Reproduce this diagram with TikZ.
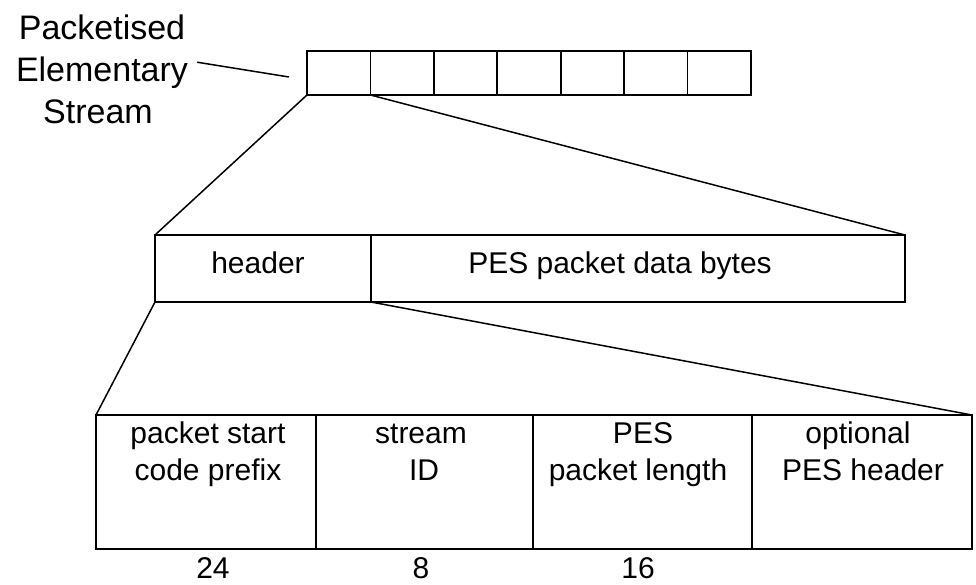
\documentclass[tikz,border=0pt]{standalone}
\usepackage{fontspec}
\setmainfont{Liberation Sans}
\begin{document}
\begin{tikzpicture}[x=1pt,y=-1pt,
  cell/.style={draw,line width=1.6pt,rectangle,inner sep=0pt,outer sep=0pt,anchor=north west},
  link/.style={line width=1.5pt},
  lbl/.style={inner sep=0pt,anchor=base,font=\fontsize{34pt}{42pt}\selectfont},
  txt/.style={inner sep=0pt,anchor=base,font=\fontsize{30pt}{36pt}\selectfont},
  num/.style={inner sep=0pt,font=\fontsize{30pt}{36pt}\selectfont}]
  % page frame
  \fill[white] (0,0) rectangle (976,584);
  \useasboundingbox (0,0) rectangle (976,584);

  % stream label
  \node[lbl] (lp) at (102,39) {Packetised};
  \node[lbl] (le) at (102,81) {Elementary};
  \node[lbl] (ls) at (98,123) {Stream};

  % packetised elementary stream: seven packets
  \foreach \i in {1,...,7} {
    \node[cell,minimum width=63.43pt,minimum height=44pt] (p\i) at ({307+(\i-1)*63.43},51) {};
  }
  \coordinate (lend) at (289,77);
  \draw[link] ([xshift=9pt,yshift=10pt]le.east) -- (lend);

  % one PES packet
  \node[cell,minimum width=216pt,minimum height=67pt] (hdr) at (155,235) {};
  \node[cell,minimum width=534pt,minimum height=67pt] (data) at (371,235) {};
  \node[txt] (thdr) at (258,273) {header};
  \node[txt] (tdata) at (620,273) {PES packet data bytes};

  % PES header fields
  \node[cell,minimum width=220pt,minimum height=134pt] (f1) at (96,415) {};
  \node[cell,minimum width=217pt,minimum height=134pt] (f2) at (316,415) {};
  \node[cell,minimum width=219pt,minimum height=134pt] (f3) at (533,415) {};
  \node[cell,minimum width=220pt,minimum height=134pt] (f4) at (752,415) {};
  \node[txt] (ta1) at (208,443) {packet start};
  \node[txt] (ta2) at (208,480) {code prefix};
  \node[txt] (tb1) at (421,443) {stream};
  \node[txt] (tb2) at (424,480) {ID};
  \node[txt] (tc1) at (643,443) {PES};
  \node[txt] (tc2) at (638,480) {packet length};
  \node[txt] (td1) at (858,443) {optional};
  \node[txt] (td2) at (863,480) {PES header};

  % field lengths in bits
  \node[num] (n1) at (213,568) {24};
  \node[num] (n2) at (421,568) {8};
  \node[num] (n3) at (638,568) {16};

  % expansion lines
  \draw[link] (p1.south west) -- (hdr.north west);
  \draw[link] (p1.south east) -- (data.north east);
  \draw[link] (hdr.south west) -- (f1.north west);
  \draw[link] (hdr.south east) -- (f4.north east);
\end{tikzpicture}
\end{document}
